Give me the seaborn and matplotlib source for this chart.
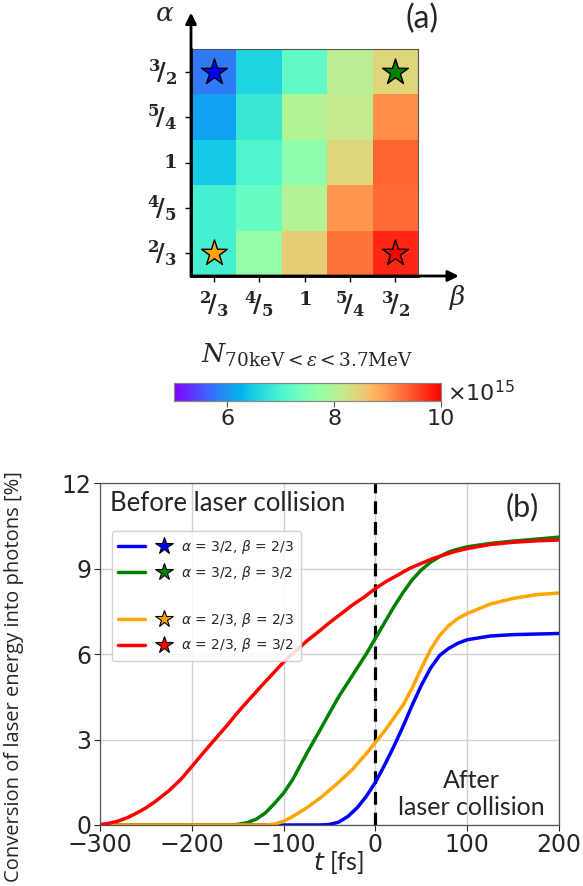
import numpy as np
import pandas as pd
import matplotlib
matplotlib.use("Agg")
import matplotlib.pyplot as plt
from matplotlib.lines import Line2D
from matplotlib.legend_handler import HandlerTuple
import seaborn as sns

# ---------------- data ----------------
# (a) photon yield map, rows: alpha from 3/2 (top) to 2/3 (bottom), cols: beta 2/3 .. 3/2  [x1e15]
alpha_labels = ["3/2", "5/4", "1", "4/5", "2/3"]
beta_labels = ["2/3", "4/5", "1", "5/4", "3/2"]
yield_row_32 = [5.8, 6.55, 7.2, 8.05, 8.4]
yield_row_54 = [6.1, 6.8, 8.0, 8.15, 9.05]
yield_row_1 = [6.45, 7.05, 7.65, 8.4, 9.35]
yield_row_45 = [6.95, 7.25, 8.0, 9.0, 9.3]
yield_row_23 = [6.95, 7.7, 8.5, 9.25, 9.75]

# highlighted cases: (alpha, beta, colour)
star_alpha = ["3/2", "3/2", "2/3", "2/3"]
star_beta = ["2/3", "3/2", "2/3", "3/2"]
star_colors = ["#0000ff", "#008000", "#ffa500", "#ff0000"]

# (b) conversion efficiency time traces [%]
t_blue = [-300, -60, -50, -40, -30, -20, -10, 0, 10, 20, 30, 40, 50, 60, 70, 80, 90, 100, 125, 150, 175, 200]
v_blue = [0, 0, 0.02, 0.1, 0.3, 0.6, 1.0, 1.5, 2.1, 2.75, 3.45, 4.2, 4.9, 5.5, 5.95, 6.2, 6.38, 6.5, 6.63, 6.68, 6.7, 6.72]

t_green = [-300, -160, -150, -140, -130, -120, -110, -100, -90, -75, -60, -50, -40, -25, -10, 0, 10, 20, 30, 40,
           50, 60, 70, 80, 90, 100, 125, 150, 175, 200]
v_green = [0, 0, 0.02, 0.08, 0.2, 0.42, 0.75, 1.12, 1.6, 2.5, 3.35, 3.93, 4.5, 5.25, 6.0, 6.55, 7.1, 7.65, 8.15, 8.6,
           8.95, 9.22, 9.42, 9.58, 9.68, 9.76, 9.88, 9.96, 10.03, 10.1]

t_orange = [-300, -120, -110, -100, -90, -75, -60, -50, -40, -25, -10, 0, 10, 20, 30, 40, 50, 60, 70, 80, 90, 100,
            125, 150, 175, 200]
v_orange = [0, 0, 0.03, 0.13, 0.3, 0.6, 0.95, 1.22, 1.5, 1.95, 2.5, 2.9, 3.3, 3.75, 4.2, 4.8, 5.5, 6.15, 6.65, 7.0,
            7.25, 7.42, 7.75, 7.95, 8.08, 8.14]

t_red = [-300, -290, -280, -270, -260, -250, -240, -225, -212, -200, -187, -175, -162, -150, -137, -125, -112, -100,
         -87, -75, -62, -50, -37, -25, -12, 0, 12, 25, 37, 50, 62, 75, 87, 100, 125, 150, 175, 200]
v_red = [0.02, 0.06, 0.14, 0.26, 0.42, 0.6, 0.82, 1.2, 1.6, 2.05, 2.55, 3.0, 3.48, 3.95, 4.42, 4.85, 5.3, 5.72,
         6.1, 6.45, 6.78, 7.1, 7.42, 7.72, 8.0, 8.3, 8.55, 8.78, 9.0, 9.18, 9.34, 9.48, 9.6, 9.7, 9.84, 9.92, 9.97, 10.0]

case_names = [r"$\alpha$ = 3/2, $\beta$ = 2/3", r"$\alpha$ = 3/2, $\beta$ = 3/2",
              r"$\alpha$ = 2/3, $\beta$ = 2/3", r"$\alpha$ = 2/3, $\beta$ = 3/2"]

# ---------------- style ----------------
sns.set_style("white")
plt.rcParams["font.family"] = ["DejaVu Sans"]
plt.rcParams["mathtext.fontset"] = "dejavusans"
TXT = "Lato"

fig = plt.figure(figsize=(5.83, 8.86), dpi=100)

# ---------------- (a) heatmap ----------------
W, H = 583.0, 886.0
ax_a = fig.add_axes([191 / W, 1 - 276 / H, 227 / W, 227 / H])
cax = fig.add_axes([174 / W, 1 - 401 / H, 267 / W, 18 / H])

grid = pd.DataFrame([yield_row_32, yield_row_54, yield_row_1, yield_row_45, yield_row_23],
                    index=alpha_labels, columns=beta_labels)
sns.heatmap(grid, ax=ax_a, cmap="rainbow", vmin=5, vmax=10, cbar=True, cbar_ax=cax,
            cbar_kws={"orientation": "horizontal", "ticks": [6, 8, 10]})


def frac(lbl):
    if "/" in lbl:
        n, d = lbl.split("/")
        return r"$\mathbf{{}^{%s}\!/_{%s}}$" % (n, d)
    return r"$\mathbf{%s}$" % lbl


ax_a.set_xticklabels([frac(b) for b in beta_labels], rotation=0, fontsize=17, math_fontfamily="dejavuserif")
ax_a.set_yticklabels([frac(a) for a in alpha_labels], rotation=0, fontsize=17, math_fontfamily="dejavuserif")
for lab in ax_a.get_xticklabels() + ax_a.get_yticklabels():
    if "/" not in lab.get_text():
        lab.set_fontsize(14)
ax_a.set_xlabel("")
ax_a.set_ylabel("")
ax_a.tick_params(axis="both", which="both", length=4, width=1, direction="out", color="black", pad=6,
                 bottom=True, left=True)
for side in ["top", "right"]:
    ax_a.spines[side].set_visible(True)
    ax_a.spines[side].set_linewidth(0.8)
    ax_a.spines[side].set_color("#555555")
for side in ["left", "bottom"]:
    ax_a.spines[side].set_visible(True)
    ax_a.spines[side].set_linewidth(2)
    ax_a.spines[side].set_color("black")

# axis arrows
ax_a.annotate("", xy=(0, 1.16), xytext=(0, 0), xycoords="axes fraction", textcoords="axes fraction",
              arrowprops=dict(arrowstyle="-|>", lw=2, color="black", mutation_scale=16, shrinkA=0, shrinkB=0))
ax_a.annotate("", xy=(1.18, 0), xytext=(0, 0), xycoords="axes fraction", textcoords="axes fraction",
              arrowprops=dict(arrowstyle="-|>", lw=2, color="black", mutation_scale=16, shrinkA=0, shrinkB=0))

for a, b, c in zip(star_alpha, star_beta, star_colors):
    ax_a.scatter(beta_labels.index(b) + 0.5, alpha_labels.index(a) + 0.5, marker="*", s=380,
                 color=c, edgecolor="black", linewidth=1, zorder=5)

fig.text(165 / W, 1 - 14 / H, r"$\alpha$", fontsize=19, ha="center", va="center", math_fontfamily="dejavuserif")
fig.text(458 / W, 1 - 298 / H, r"$\beta$", fontsize=19, ha="center", va="center", math_fontfamily="dejavuserif")
fig.text(422 / W, 1 - 19 / H, "(a)", fontsize=23, ha="center", va="center", family=TXT)

cax.tick_params(labelsize=16, length=4, width=0.8, color="#555555", pad=2)
for s in cax.spines.values():
    s.set_visible(True)
    s.set_color("#888888")
    s.set_linewidth(0.8)
cax.xaxis.set_ticks_position("bottom")
fig.text(307 / W, 1 - 355 / H, r"$N_{70\mathrm{keV}{<}\varepsilon{<}3.7\mathrm{MeV}}$", fontsize=19,
         ha="center", va="center", math_fontfamily="dejavuserif")
fig.text(447 / W, 1 - 393 / H, r"$\times10^{15}$", fontsize=16, ha="left", va="center")

# ---------------- (b) time traces ----------------
ax_b = fig.add_axes([100 / W, 1 - 825 / H, 459 / W, 342 / H])
traces = pd.concat([
    pd.DataFrame({"t": t_blue, "v": v_blue, "case": case_names[0]}),
    pd.DataFrame({"t": t_green, "v": v_green, "case": case_names[1]}),
    pd.DataFrame({"t": t_orange, "v": v_orange, "case": case_names[2]}),
    pd.DataFrame({"t": t_red, "v": v_red, "case": case_names[3]}),
])
sns.lineplot(data=traces, x="t", y="v", hue="case", palette=dict(zip(case_names, star_colors)),
             estimator=None, sort=False, linewidth=2.5, ax=ax_b, legend=False)

ax_b.axvline(0, color="black", ls=(0, (4, 2.5)), lw=2.3, zorder=1)
ax_b.set_xlim(-300, 200)
ax_b.set_ylim(0, 12)
ax_b.set_xticks([-300, -200, -100, 0, 100, 200])
ax_b.set_yticks([0, 3, 6, 9, 12])
ax_b.grid(True, color="#d0d0d0", lw=1)
ax_b.set_axisbelow(True)
ax_b.tick_params(labelsize=17, length=4, width=0.8, pad=2, left=True, bottom=True)
for s in ax_b.spines.values():
    s.set_color("#555555")
    s.set_linewidth(0.9)
ax_b.set_xlabel(r"$t$ [fs]", fontsize=18, labelpad=-4, family=TXT)
ax_b.xaxis.set_label_coords(0.52, -0.07)
ax_b.set_ylabel("")
fig.text(14 / W, 1 - 677 / H, "Conversion of laser energy into photons [%]", rotation=90, fontsize=14.5,
         ha="center", va="center", family="Open Sans")

ax_b.text(0.022, 0.94, "Before laser collision", transform=ax_b.transAxes, fontsize=18.5,
          ha="left", va="center", family=TXT)
ax_b.text(0.92, 0.93, "(b)", transform=ax_b.transAxes, fontsize=22, ha="center", va="center", family=TXT)
ax_b.text(0.808, 0.09, "After\nlaser collision", transform=ax_b.transAxes, fontsize=18,
          ha="center", va="center", family=TXT, linespacing=1.2)

handles, labels = [], []
for i, (name, col) in enumerate(zip(case_names, star_colors)):
    if i == 2:
        handles.append(Line2D([], [], alpha=0))
        labels.append(" ")
    ln = Line2D([], [], color=col, lw=2.5)
    st = Line2D([], [], color=col, marker="*", ms=13, markeredgecolor="black", markeredgewidth=0.8, lw=0)
    handles.append((ln, st))
    labels.append(name)
ax_b.legend(handles, labels, handler_map={tuple: HandlerTuple(ndivide=None, pad=0.4)},
            loc="upper left", bbox_to_anchor=(0.01, 0.88), fontsize=10, handlelength=4.2,
            handletextpad=0.3, borderpad=0.5, labelspacing=0.55, frameon=True, framealpha=0.85,
            edgecolor="#cccccc")

fig.savefig("out.png", dpi=100)
